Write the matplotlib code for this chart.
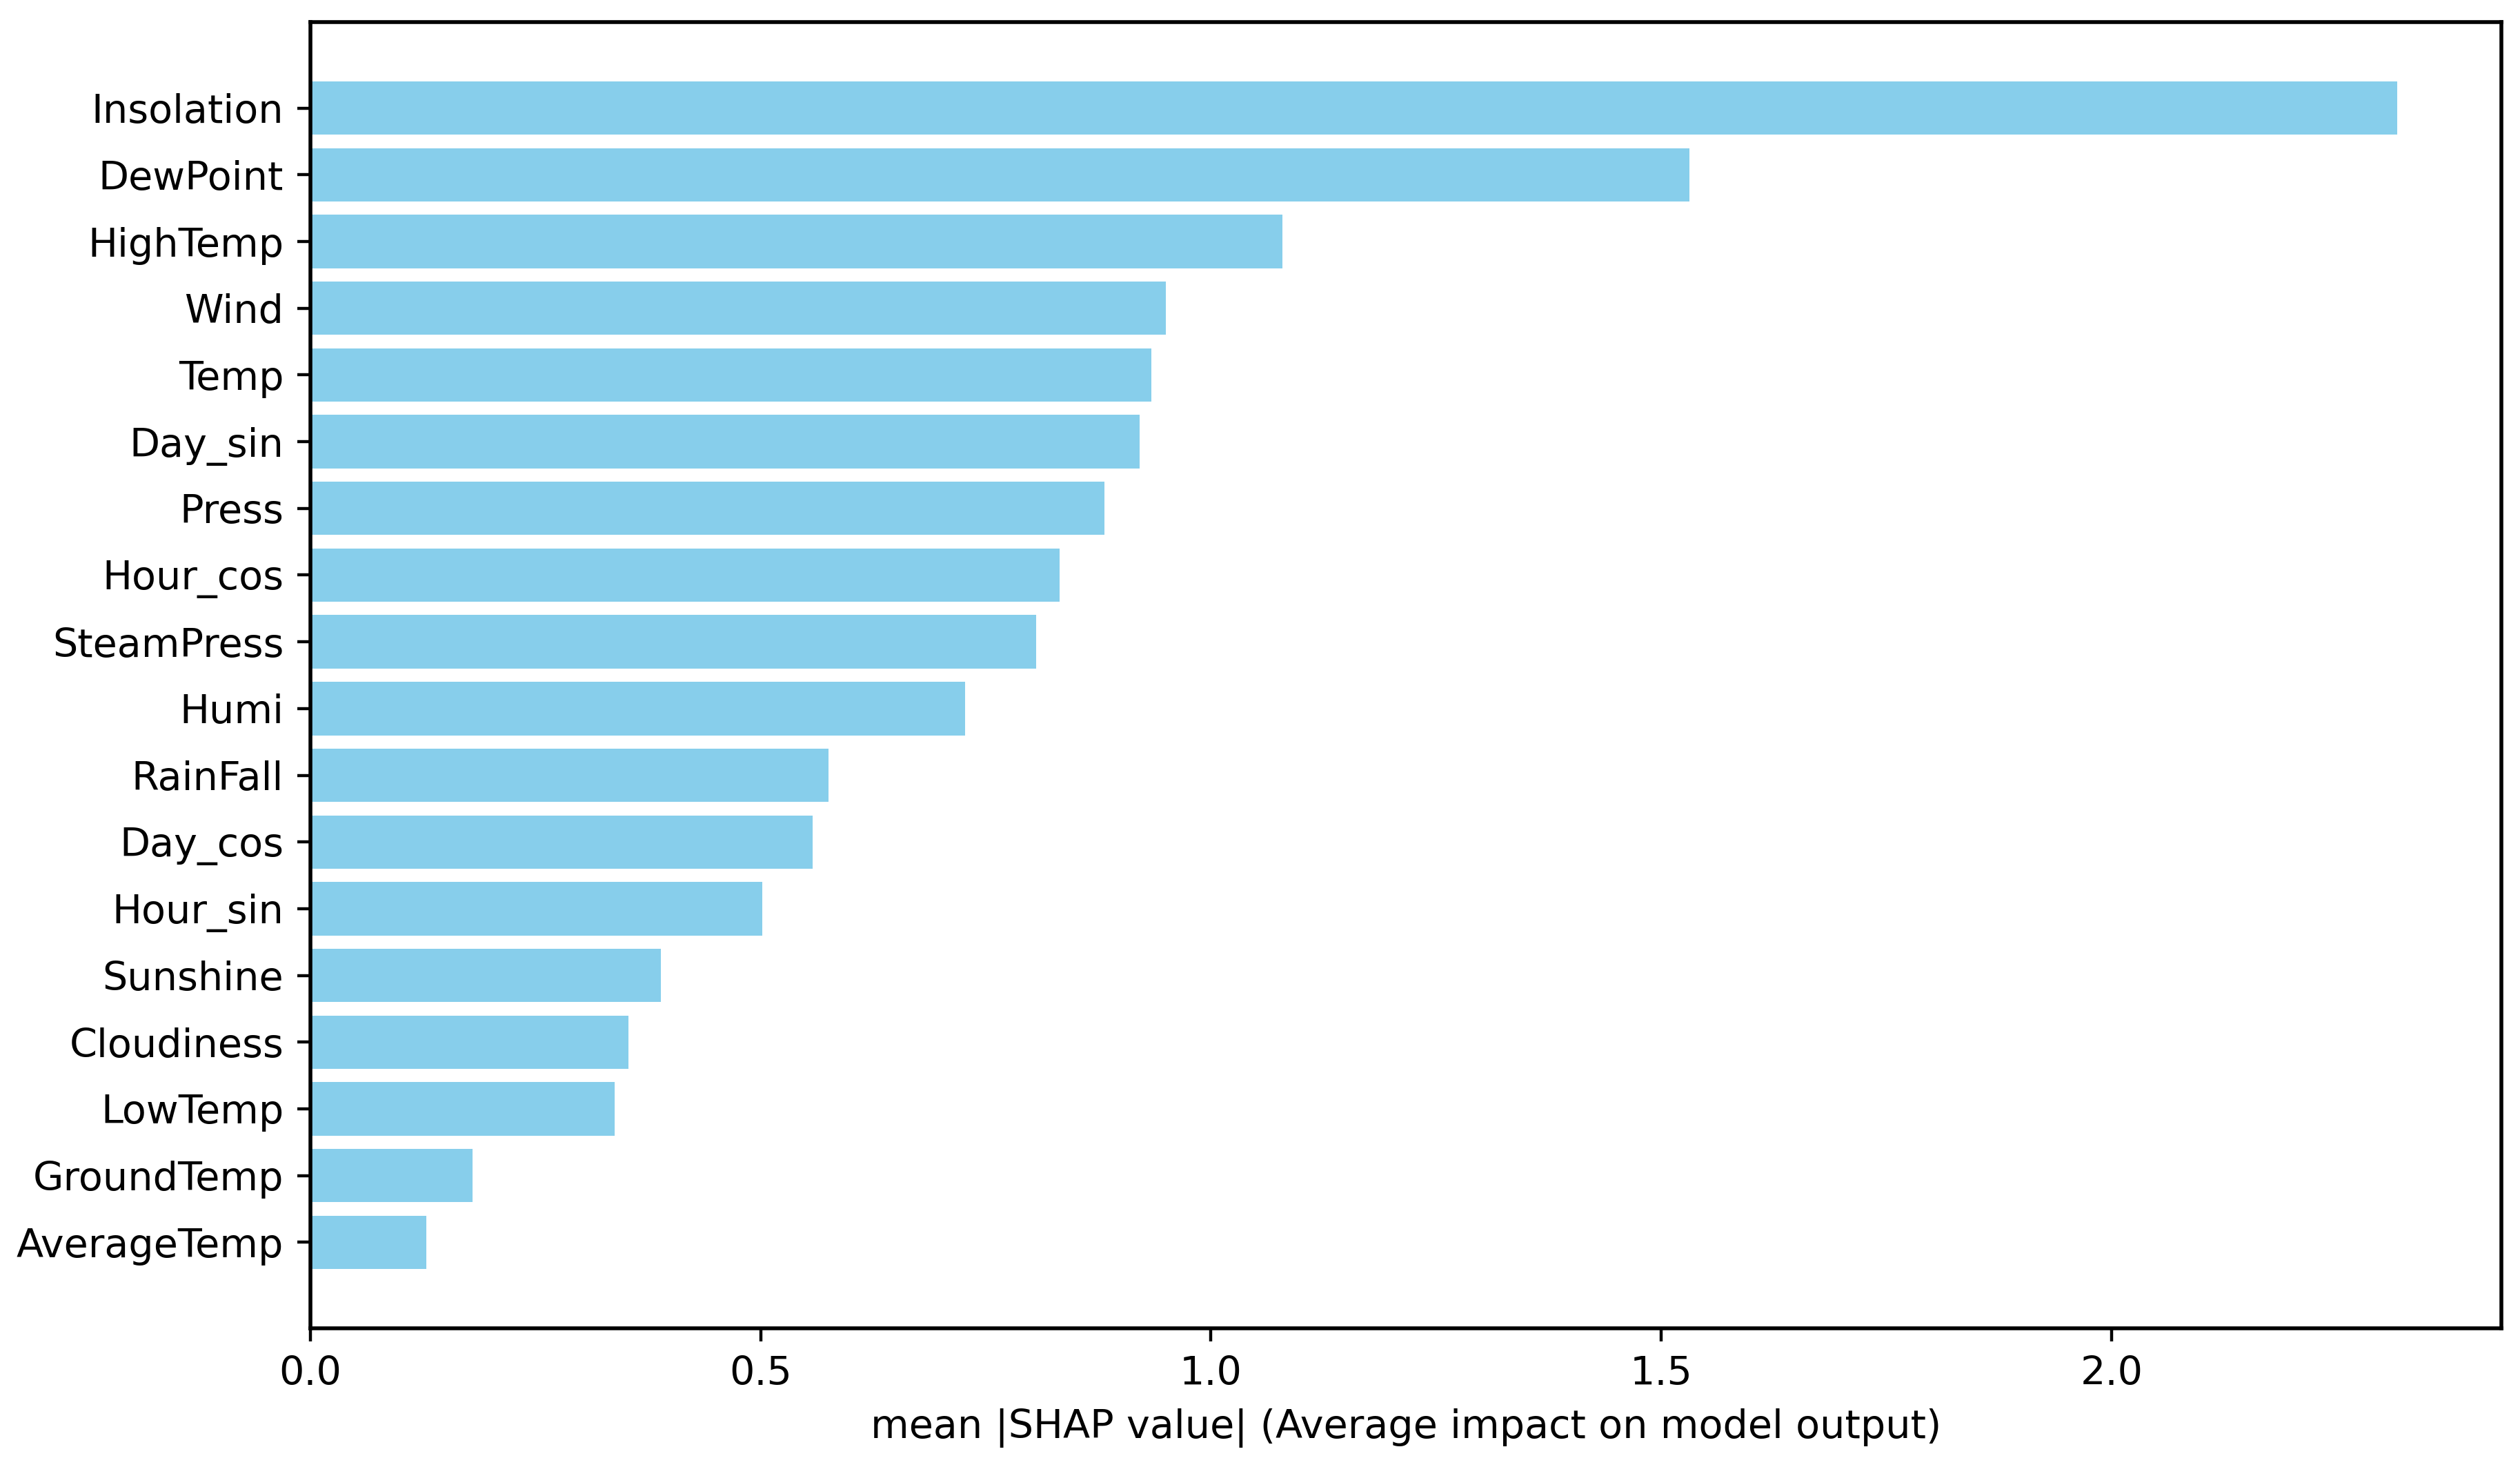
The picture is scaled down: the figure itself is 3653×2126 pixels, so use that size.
# Mean |SHAP value| feature importance, horizontal bar chart
import matplotlib
matplotlib.use('Agg')
import matplotlib.pyplot as plt

features = ['Insolation', 'DewPoint', 'HighTemp', 'Wind', 'Temp', 'Day_sin',
            'Press', 'Hour_cos', 'SteamPress', 'Humi', 'RainFall', 'Day_cos',
            'Hour_sin', 'Sunshine', 'Cloudiness', 'LowTemp', 'GroundTemp',
            'AverageTemp']
shap_values = [2.317, 1.531, 1.079, 0.950, 0.934, 0.921,
               0.882, 0.832, 0.806, 0.727, 0.575, 0.558,
               0.502, 0.389, 0.353, 0.338, 0.180, 0.129]

# smallest at the bottom
feat = features[::-1]
vals = shap_values[::-1]

plt.rcParams['font.size'] = 10.3
plt.rcParams['axes.linewidth'] = 1.0

fig, ax = plt.subplots(figsize=(3653 / 400, 2126 / 400), dpi=400)
fig.subplots_adjust(left=0.1232, right=0.9926, bottom=0.0945, top=0.985)

ax.barh(range(len(feat)), vals, color='skyblue')
ax.set_yticks(range(len(feat)))
ax.set_yticklabels(feat)
ax.set_xlim(left=0)
ax.set_xlabel('mean |SHAP value| (Average impact on model output)')

fig.savefig('out.png', dpi=400)
